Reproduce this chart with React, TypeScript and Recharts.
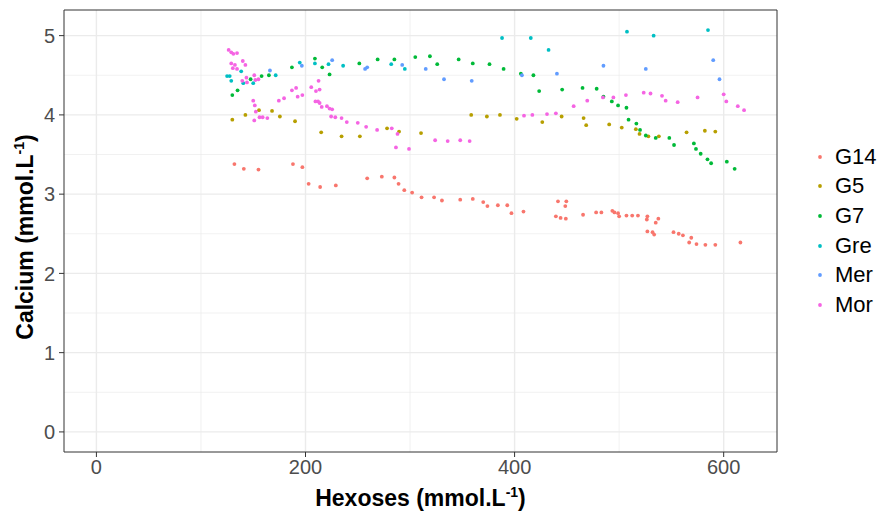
import React from "react";
import {
  ScatterChart,
  Scatter,
  XAxis,
  YAxis,
  CartesianGrid,
  ReferenceArea,
  Label,
} from "recharts";

const seriesNames = ["G14", "G5", "G7", "Gre", "Mer", "Mor"];
const seriesColors = ["#F8766D", "#B79F00", "#00BA38", "#00BFC4", "#619CFF", "#F564E3"];

const xTicks = [0, 200, 400, 600];
const yTicks = [0, 1, 2, 3, 4, 5];
const xMinorGrid = [100, 300, 500];
const yMinorGrid = [0.5, 1.5, 2.5, 3.5, 4.5];
const xDomain = [-31, 651];
const yDomain = [-0.2535, 5.3235];

const G14 = [
  [132, 3.38], [141, 3.32], [155, 3.31], [188, 3.38], [197, 3.34], [203, 3.13], [214, 3.09],
  [229, 3.11], [259, 3.2], [273, 3.22], [285, 3.21], [289, 3.13], [294.5, 3.05], [302, 3.02],
  [311, 2.96], [323, 2.96], [330.5, 2.92], [348, 2.93], [360, 2.94], [370, 2.9], [374, 2.85],
  [384, 2.86], [393, 2.86], [397, 2.76], [408.5, 2.78], [441.5, 2.91], [449.5, 2.91],
  [448.5, 2.85], [439.5, 2.72], [444, 2.7], [449, 2.69], [465.5, 2.74], [478, 2.77], [483, 2.77],
  [493.5, 2.79], [495.5, 2.77], [499, 2.76], [500, 2.72], [507, 2.73], [512.5, 2.73], [518, 2.73],
  [527, 2.72], [526.5, 2.68], [537.5, 2.69], [535, 2.64], [527, 2.53], [532, 2.52], [533.5, 2.49],
  [552, 2.52], [557, 2.5], [561, 2.48], [569, 2.45], [567, 2.39], [574, 2.37], [582.5, 2.36],
  [592, 2.36], [616, 2.39],
];

const G5 = [
  [130, 3.94], [142.5, 4.0], [155.5, 4.06], [168, 4.05], [175.5, 3.98], [190, 3.92], [215, 3.78],
  [234.5, 3.73], [252, 3.73], [278, 3.83], [289.5, 3.79], [310.5, 3.77], [358.5, 4.0], [373.5, 3.98],
  [386, 4.0], [402, 3.95], [426.5, 3.91], [445, 3.98], [466, 3.96], [468.5, 3.87], [490.5, 3.88],
  [502.5, 3.84], [516, 3.82], [519.5, 3.76], [528, 3.73], [538, 3.73], [564.5, 3.78], [582, 3.8],
  [592, 3.79],
];

const G7 = [
  [130, 4.25], [135, 4.31], [147.5, 4.45], [158, 4.49], [165, 4.5], [187, 4.6], [209, 4.71],
  [216, 4.6], [223, 4.51], [251.5, 4.65], [269, 4.7], [285, 4.7], [305, 4.73], [319, 4.74],
  [326, 4.64], [346.5, 4.7], [360, 4.65], [376, 4.64], [389.5, 4.58], [406, 4.52], [418, 4.5],
  [423.5, 4.3], [445.5, 4.32], [465, 4.34], [478.5, 4.33], [485, 4.23], [493, 4.17], [499, 4.12],
  [507, 4.09], [509, 3.94], [516.5, 3.89], [520, 3.81], [525.5, 3.74], [535, 3.71], [548, 3.71],
  [552.5, 3.62], [571.5, 3.64], [573.5, 3.57], [578, 3.51], [584.5, 3.44], [588, 3.39], [603, 3.41],
  [610.5, 3.32],
];

const Gre = [
  [125, 4.49], [127.5, 4.49], [129, 4.43], [138.5, 4.55], [140.5, 4.4], [150, 4.4], [171.5, 4.5],
  [194.5, 4.66], [209, 4.65], [222, 4.64], [236, 4.62], [282, 4.64], [295, 4.58], [388, 4.97],
  [415.5, 4.97], [432.5, 4.82], [507.5, 5.05], [533, 5.0], [585, 5.07],
];

const Mer = [
  [166, 4.56], [196.5, 4.62], [225.5, 4.69], [257, 4.58], [259, 4.6], [292.5, 4.63], [315, 4.58],
  [332.5, 4.45], [359, 4.43], [407, 4.5], [440.5, 4.52], [485, 4.62], [525.5, 4.58], [590, 4.69],
  [596, 4.45],
];

const Mor = [
  [126.5, 4.82], [129, 4.79], [131, 4.77], [134.5, 4.78], [129, 4.65], [132.5, 4.63], [130.5, 4.59],
  [134.5, 4.58], [140, 4.68], [142.5, 4.63], [139.5, 4.43], [143.5, 4.47], [144, 4.41], [151, 4.5],
  [152, 4.44], [155, 4.45], [150, 4.18], [151.5, 4.12], [152.5, 4.04], [151, 3.93], [156, 3.97],
  [159, 3.97], [163.5, 3.96], [174.5, 4.18], [179.5, 4.21], [187, 4.31], [191, 4.34], [192.5, 4.23],
  [197, 4.25], [205.5, 4.35], [212.5, 4.43], [210, 4.3], [213.5, 4.32], [209.5, 4.17], [212, 4.17],
  [213.5, 4.15], [215.5, 4.1], [220.5, 4.11], [223, 4.08], [225.5, 4.07], [224.5, 3.98], [228.5, 3.97],
  [234.5, 3.96], [239.5, 3.91], [250, 3.9], [258, 3.85], [268.5, 3.81], [282.5, 3.83], [288, 3.76],
  [286.5, 3.59], [299, 3.57], [324, 3.68], [336, 3.67], [348, 3.68], [357, 3.67], [409, 3.99],
  [417, 4.0], [431, 4.01], [439.5, 4.02], [456.5, 4.11], [469.5, 4.18], [484.5, 4.22], [494.5, 4.22],
  [506.5, 4.25], [523.5, 4.28], [530, 4.27], [541, 4.24], [544.5, 4.18], [556, 4.16], [575, 4.22],
  [600, 4.26], [602.5, 4.17], [613.5, 4.11], [619.5, 4.06],
];

const seriesData = [G14, G5, G7, Gre, Mer, Mor];

const FONT = "'Liberation Sans', Arial, Helvetica, sans-serif";

const XTitle = (props: any) => {
  const vb = props.viewBox || {};
  const cx = vb.x + vb.width / 2;
  return (
    <text x={cx} y={506} textAnchor="middle" fontFamily={FONT} fontWeight="bold" fontSize={23} fill="#000">
      <tspan>Hexoses (mmol.L</tspan>
      <tspan fontSize={14} dy={-9}>-1</tspan>
      <tspan dy={9}>)</tspan>
    </text>
  );
};

const YTitle = (props: any) => {
  const vb = props.viewBox || {};
  const cy = vb.y + vb.height / 2 + 6;
  const x = 33;
  return (
    <text
      x={x}
      y={cy}
      transform={`rotate(-90, ${x}, ${cy})`}
      textAnchor="middle"
      fontFamily={FONT}
      fontWeight="bold"
      fontSize={23}
      fill="#000"
    >
      <tspan>Calcium (mmol.L</tspan>
      <tspan fontSize={14} dy={-9}>-1</tspan>
      <tspan dy={9}>)</tspan>
    </text>
  );
};

const makeDot = (color: string) => (p: any) =>
  p.cx == null || p.cy == null ? <g /> : <circle cx={p.cx} cy={p.cy} r={1.9} fill={color} />;

export default function App() {
  return (
    <div style={{ position: "absolute", left: 0, top: 0, width: 879, height: 513, background: "#fff" }}>
      <ScatterChart width={879} height={513} margin={{ top: 10, right: 102, bottom: 0, left: 0 }}>
        <CartesianGrid
          stroke="#EBEBEB"
          strokeWidth={0.7}
          verticalValues={xMinorGrid}
          horizontalValues={yMinorGrid}
        />
        <CartesianGrid
          stroke="#EBEBEB"
          strokeWidth={1.4}
          verticalValues={xTicks}
          horizontalValues={yTicks}
        />
        <XAxis
          type="number"
          dataKey="x"
          domain={xDomain}
          ticks={xTicks}
          interval={0}
          allowDataOverflow
          height={61}
          axisLine={false}
          tickSize={5}
          tickMargin={3}
          tickLine={{ stroke: "#333333", strokeWidth: 1 }}
          tick={{ fill: "#4D4D4D", fontSize: 20, fontFamily: FONT }}
        >
          <Label content={XTitle} />
        </XAxis>
        <YAxis
          type="number"
          dataKey="y"
          domain={yDomain}
          ticks={yTicks}
          interval={0}
          allowDataOverflow
          width={64}
          axisLine={false}
          tickSize={5}
          tickMargin={4}
          tickLine={{ stroke: "#333333", strokeWidth: 1 }}
          tick={{ fill: "#4D4D4D", fontSize: 20, fontFamily: FONT }}
        >
          <Label content={YTitle} />
        </YAxis>
        {seriesData.map((pts, i) => (
          <Scatter
            key={seriesNames[i]}
            name={seriesNames[i]}
            data={pts.map(([x, y]) => ({ x, y }))}
            fill={seriesColors[i]}
            shape={makeDot(seriesColors[i])}
            isAnimationActive={false}
          />
        ))}
        <ReferenceArea
          x1={xDomain[0]}
          x2={xDomain[1]}
          y1={yDomain[0]}
          y2={yDomain[1]}
          fill="none"
          fillOpacity={0}
          stroke="#333333"
          strokeWidth={1}
          ifOverflow="visible"
        />
      </ScatterChart>
      <div style={{ position: "absolute", left: 812, top: 142, fontFamily: FONT }}>
        {seriesNames.map((n, i) => (
          <div key={n} style={{ display: "flex", alignItems: "center", height: 29.6 }}>
            <svg width={20} height={20} style={{ display: "block" }}>
              <circle cx={8} cy={10} r={1.9} fill={seriesColors[i]} />
            </svg>
            <span style={{ fontSize: 22, color: "#000", lineHeight: "22px", marginLeft: 3 }}>{n}</span>
          </div>
        ))}
      </div>
    </div>
  );
}
